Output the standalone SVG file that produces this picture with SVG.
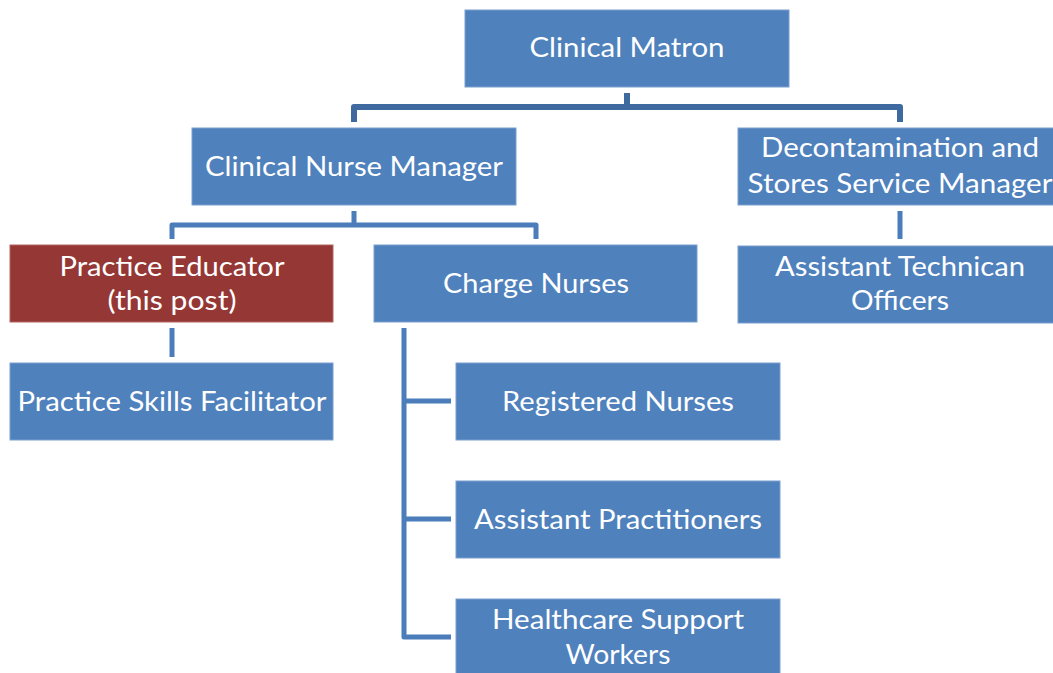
<svg xmlns="http://www.w3.org/2000/svg" width="1053" height="673" viewBox="0 0 1053 673">
<style>
.box{fill:#4F81BD;stroke:#7A9FD0;stroke-width:1}
.red{fill:#953735;stroke:#B26462;stroke-width:1}
.t{font-family:Lato,"Open Sans","Liberation Sans",sans-serif;font-size:26px;fill:#FFFFFF;text-anchor:middle}
.c{fill:none;stroke:#4A7DBA;stroke-width:5;stroke-linejoin:round}
.c0{fill:none;stroke:#3F6A9F;stroke-width:6;stroke-linejoin:round}
</style>
<rect width="1053" height="673" fill="#FFFFFF"/>
<g id="connectors">
<path class="c0" d="M627,93 V107 M354,122 V107 H900 V122"/>
<path class="c" d="M354,211 V225 M172,239 V225 H536 V239"/>
<path class="c" d="M172,328 V357"/>
<path class="c" d="M900,211 V239"/>
<path class="c" d="M404,328 V637 H451 M404,401 H451 M404,519 H451"/>
</g>
<g id="clinical-matron">
<rect class="box" x="465" y="10" width="324" height="77"/>
<text class="t" x="627" y="57" textLength="195" lengthAdjust="spacingAndGlyphs">Clinical Matron</text>
</g>
<g id="clinical-nurse-manager">
<rect class="box" x="192" y="128" width="324" height="77"/>
<text class="t" x="354" y="176" textLength="298" lengthAdjust="spacingAndGlyphs">Clinical Nurse Manager</text>
</g>
<g id="decontamination-manager">
<rect class="box" x="738" y="128" width="324" height="77"/>
<text class="t" x="900" y="157" textLength="278" lengthAdjust="spacingAndGlyphs">Decontamination and</text>
<text class="t" x="900" y="193" textLength="305" lengthAdjust="spacingAndGlyphs">Stores Service Manager</text>
</g>
<g id="practice-educator">
<rect class="red" x="10" y="245" width="323" height="77"/>
<text class="t" x="172" y="276" textLength="225" lengthAdjust="spacingAndGlyphs">Practice Educator</text>
<text class="t" x="172" y="310" textLength="129" lengthAdjust="spacingAndGlyphs">(this post)</text>
</g>
<g id="charge-nurses">
<rect class="box" x="374" y="245" width="323" height="77"/>
<text class="t" x="536" y="293" textLength="186" lengthAdjust="spacingAndGlyphs">Charge Nurses</text>
</g>
<g id="assistant-technican-officers">
<rect class="box" x="738" y="246" width="324" height="77"/>
<text class="t" x="900" y="276" textLength="250" lengthAdjust="spacingAndGlyphs">Assistant Technican</text>
<text class="t" x="900" y="310" textLength="98" lengthAdjust="spacingAndGlyphs">Officers</text>
</g>
<g id="practice-skills-facilitator">
<rect class="box" x="10" y="363" width="323" height="77"/>
<text class="t" x="172" y="411" textLength="309" lengthAdjust="spacingAndGlyphs">Practice Skills Facilitator</text>
</g>
<g id="registered-nurses">
<rect class="box" x="456" y="363" width="324" height="77"/>
<text class="t" x="618" y="411" textLength="232" lengthAdjust="spacingAndGlyphs">Registered Nurses</text>
</g>
<g id="assistant-practitioners">
<rect class="box" x="456" y="481" width="324" height="77"/>
<text class="t" x="618" y="529" textLength="288" lengthAdjust="spacingAndGlyphs">Assistant Practitioners</text>
</g>
<g id="healthcare-support-workers">
<rect class="box" x="456" y="599" width="324" height="80"/>
<text class="t" x="618" y="629" textLength="252" lengthAdjust="spacingAndGlyphs">Healthcare Support</text>
<text class="t" x="618" y="664" textLength="105" lengthAdjust="spacingAndGlyphs">Workers</text>
</g>
</svg>
